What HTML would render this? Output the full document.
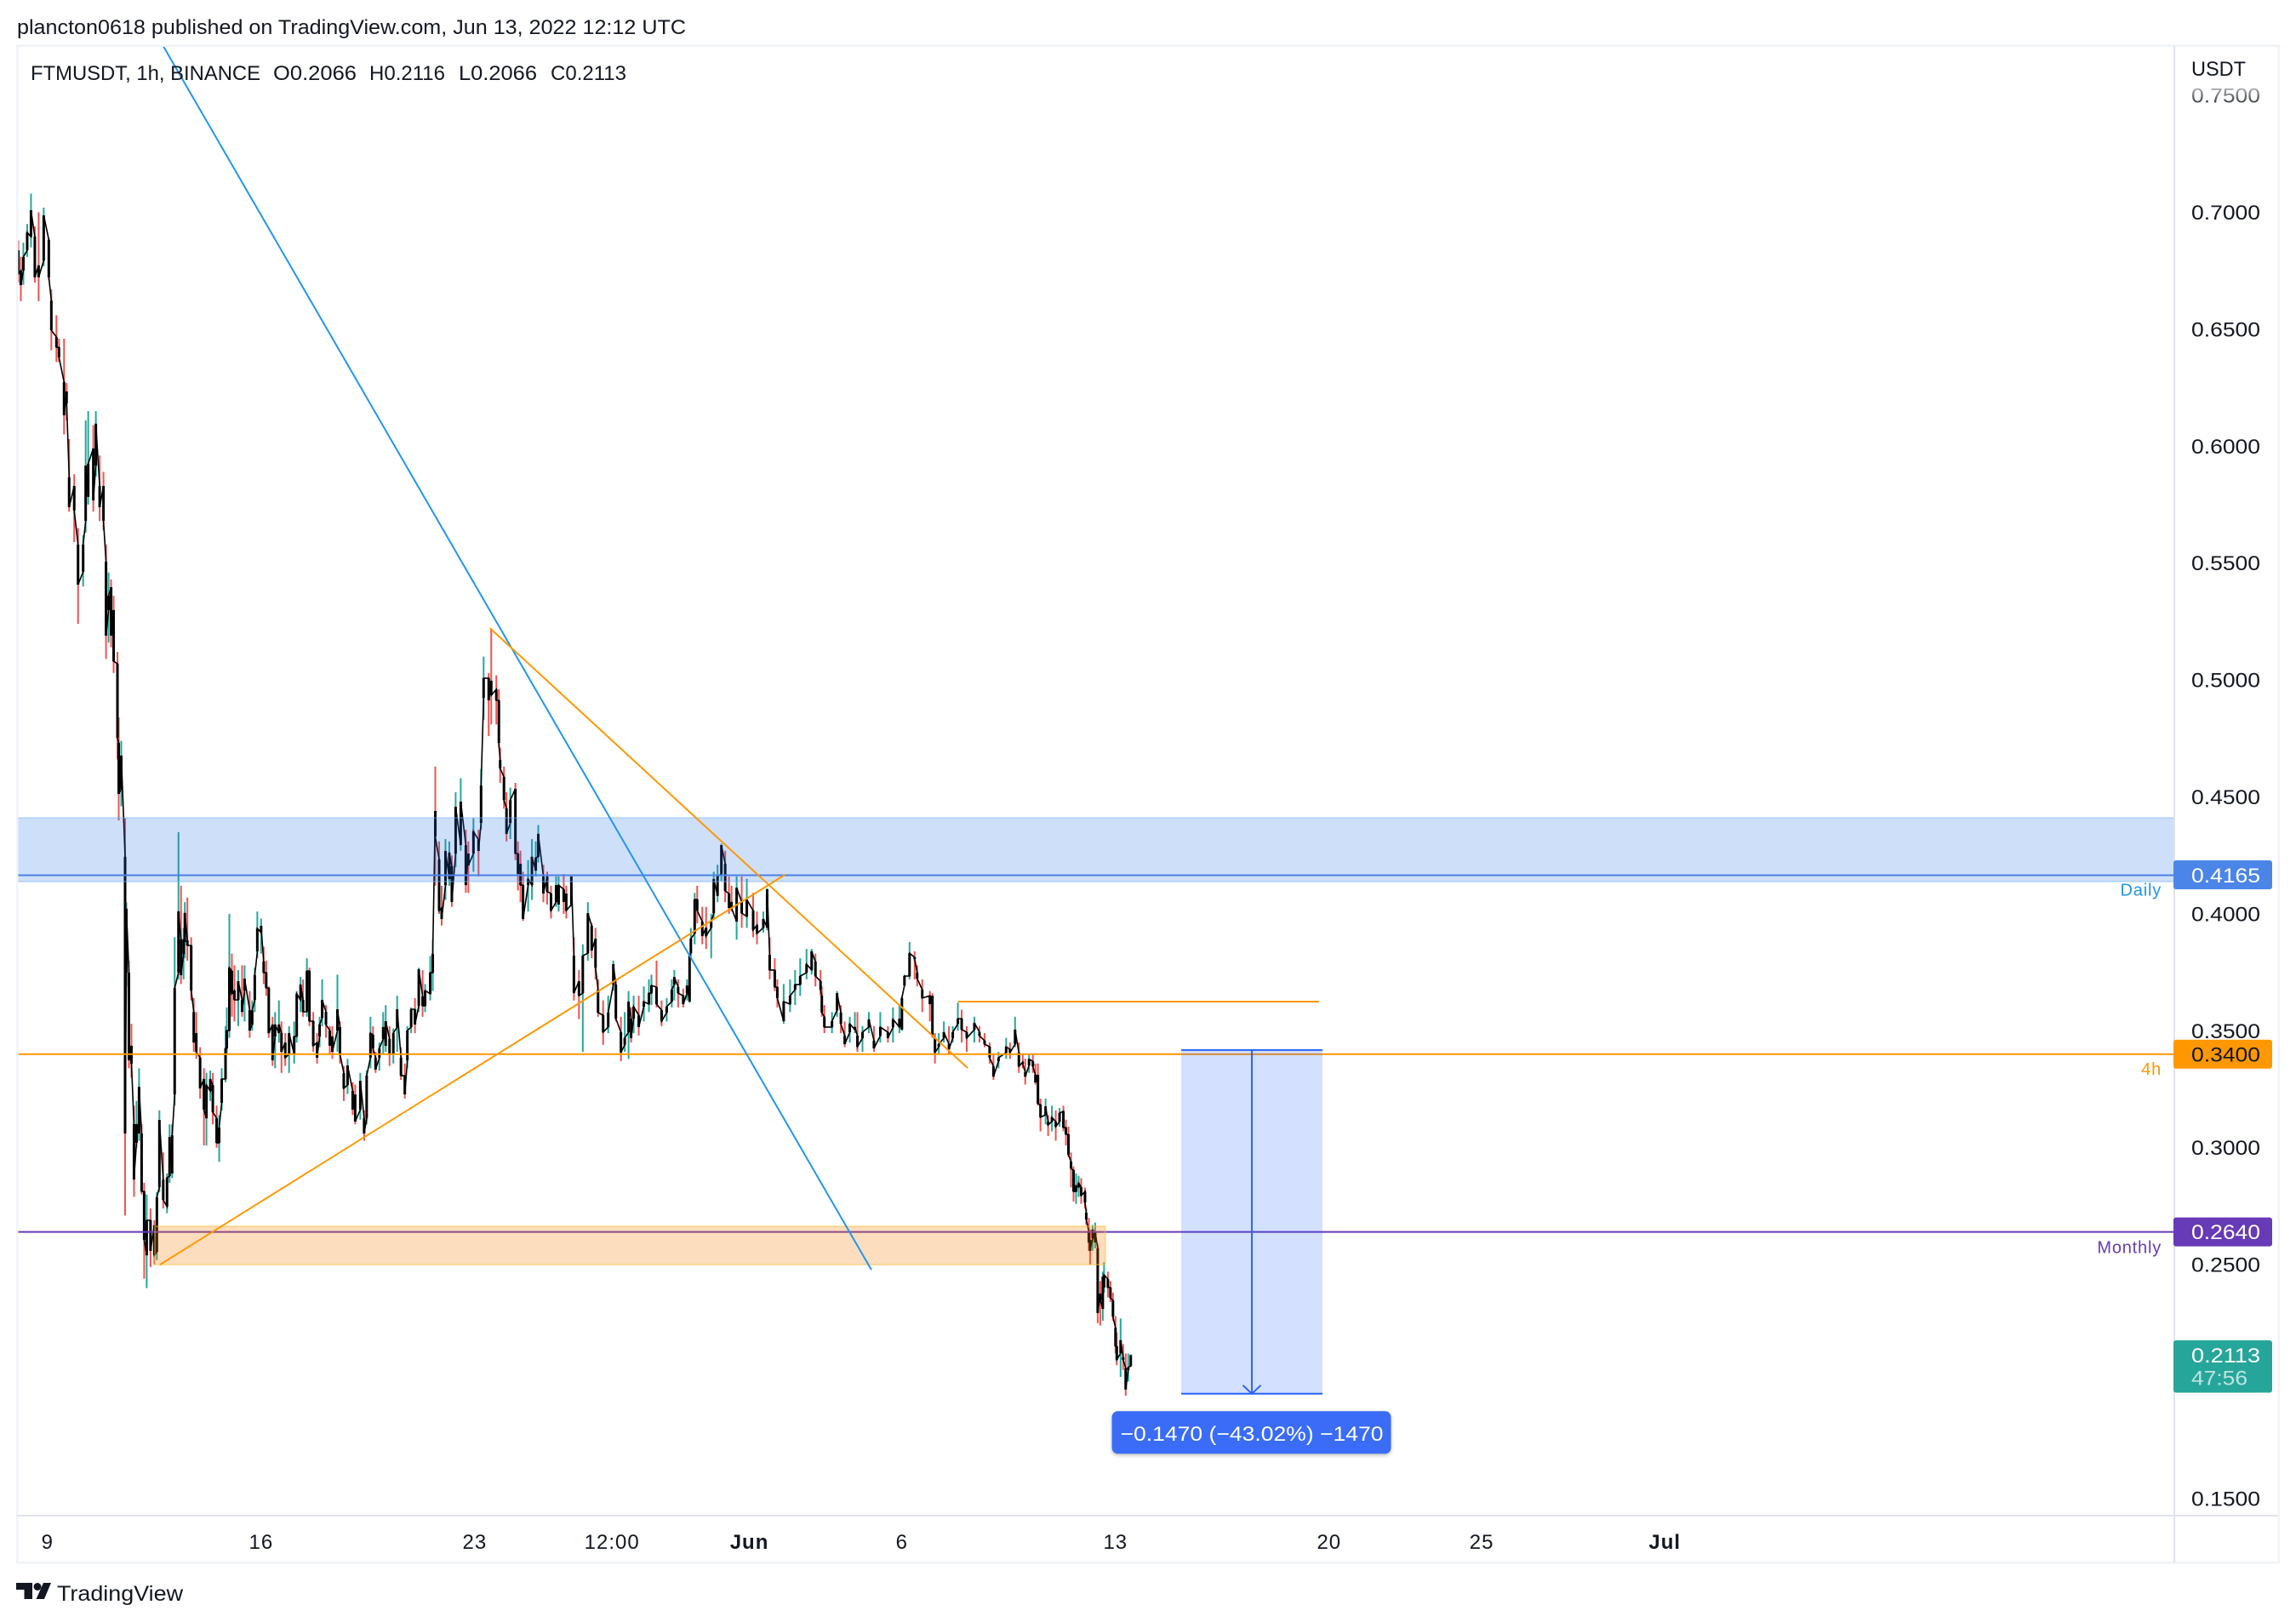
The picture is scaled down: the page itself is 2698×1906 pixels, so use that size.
<!DOCTYPE html>
<html lang="en">
<head>
<meta charset="utf-8">
<title>FTMUSDT 1h chart</title>
<style>
html,body{margin:0;padding:0;background:#fff;width:2698px;height:1906px;overflow:hidden}
svg{display:block}
text{font-family:"Liberation Sans",Arial,sans-serif;fill:#131722}
</style>
</head>
<body>
<svg id="chart" xmlns="http://www.w3.org/2000/svg" width="2698" height="1906" viewBox="0 0 2698 1906">
  <defs>
    <linearGradient id="fade" x1="0" y1="0" x2="0" y2="1">
      <stop offset="0" stop-color="#131722" stop-opacity="0.25"/>
      <stop offset="1" stop-color="#131722" stop-opacity="1"/>
    </linearGradient>
  </defs>
  <rect x="0" y="0" width="2698" height="1906" fill="#ffffff"/>
  <text x="20" y="40" font-size="24" textLength="786" lengthAdjust="spacingAndGlyphs">plancton0618 published on TradingView.com, Jun 13, 2022 12:12 UTC</text>
  <g id="candles"></g>
  <g id="overlays"></g>

  <rect x="19" y="52.5" width="2660" height="2.5" fill="#f0f3fa"/>
  <rect x="19" y="52.5" width="2.5" height="1785" fill="#f0f3fa"/>
  <rect x="2676.5" y="52.5" width="2.5" height="1785" fill="#f0f3fa"/>
  <rect x="19" y="1835" width="2660" height="2.5" fill="#f0f3fa"/>
  <rect x="2554" y="54" width="2" height="1782" fill="#e0e3eb"/>
  <rect x="20" y="1780" width="2657" height="2" fill="#e0e3eb"/>

  <g font-size="24">
    <text x="36" y="94" font-size="24" textLength="270" lengthAdjust="spacingAndGlyphs">FTMUSDT, 1h, BINANCE</text>
    <text x="321" y="94" font-size="24" textLength="98" lengthAdjust="spacingAndGlyphs">O0.2066</text>
    <text x="434" y="94" font-size="24" textLength="89" lengthAdjust="spacingAndGlyphs">H0.2116</text>
    <text x="539" y="94" font-size="24" textLength="92" lengthAdjust="spacingAndGlyphs">L0.2066</text>
    <text x="647" y="94" font-size="24" textLength="89" lengthAdjust="spacingAndGlyphs">C0.2113</text>
  </g>
  <text x="2575" y="89" font-size="24" textLength="64" lengthAdjust="spacingAndGlyphs">USDT</text>
  <g id="price-ticks"></g>
  <g id="time-ticks"></g>
  <g id="price-tags"></g>

  <g>
    <path d="M19 1860h19v19h-9.500v-11h-9.500z" fill="#131722"/>
    <circle cx="44" cy="1864.500" r="4.500" fill="#131722"/>
    <path d="M51 1860h9l-8 19h-9.500z" fill="#131722"/>
    <text x="67" y="1881" font-size="25" textLength="148" lengthAdjust="spacingAndGlyphs">TradingView</text>
  </g>
</svg>
<script>
// Bar time: hours since 8 May 2022 00:00 UTC
const barHours = [
1,3,5,8,11,14,17,21,25,27,
31,33,37,39,41,45,48,52,54,56,
60,62,65,68,70,72,74,76,79,80,
82,85,86,88,90,92,94,96,98,100,
102,105,108,110,112,115,118,120,122,124,
127,129,131,132,134,137,139,141,144,147,
149,152,154,157,159,161,164,165,167,169,
171,174,177,179,183,185,187,189,192,194,
196,198,201,203,206,208,211,214,218,220,
223,225,228,230,233,236,238,240,243,246,
248,252,254,257,260,264,266,270,273,275,
278,280,282,285,288,290,293,296,299,302,
305,307,310,313,316,319,321,325,327,329,
332,334,337,340,342,345,349,353,355,359,
363,365,367,371,373,377,379,380,383,385,
388,392,394,396,398,402,405,408,410,414,
417,420,424,426,430,432,436,438,442,445,
449,452,455,457,461,465,469,471,475,478,
481,483,485,489,493,497,499,503,507,511,
515,517,520,524,527,529,530,533,535,539,
542,546,548,551,554,557,560,562,566,570,
574,579,582,587,590,592,596,598,603,608,
612,616,621,625,628,632,633,635,641,645,
648,651,655,659,661,665,670,674,679,685,
689,694,696,698,702,706,708,712,718,720,
722,725,729,733,736,740,743,747,753,757,
761,765,768,772,778,781,785,788,791,793,
796,799,801,803,805,809,811,814,817,820,
823,825,827,829,831,833,835,837,840,841,
843,844,846,848,850,852,854,855,858,860,
862,864,865,868,870,872,874,876];
const opens = [
.6838,.6751,.6751,.6838,.6896,.6896,.6773,.6794,.6882,.6623,
.6467,.6423,.6274,.6234,.5867,.5830,.5579,.5463,.5681,.5783,
.5990,.5917,.5830,.5830,.5506,.5299,.5397,.5299,.5070,.4731,
.4535,.4244,.3749,.3749,.3436,.3101,.3021,.3061,.3061,.2813,
.2540,.2690,.2668,.2555,.2832,.2864,.2748,.2879,.2890,.3228,
.3749,.3891,.3829,.3880,.3887,.3865,.3581,.3490,.3385,.3294,
.3126,.3243,.3268,.3126,.3021,.3192,.3294,.3425,.3501,.3756,
.3672,.3632,.3632,.3672,.3588,.3527,.3632,.3840,.3920,.3796,
.3749,.3683,.3527,.3476,.3490,.3490,.3450,.3400,.3400,.3476,
.3632,.3632,.3581,.3756,.3541,.3450,.3476,.3556,.3581,.3501,
.3476,.3501,.3516,.3319,.3268,.3243,.3228,.3163,.3126,.3126,
.3385,.3483,.3385,.3385,.3465,.3436,.3465,.3400,.3516,.3385,
.3308,.3374,.3516,.3592,.3607,.3647,.3607,.3658,.3749,.4440,
.4233,.4025,.4123,.4149,.4204,.4258,.4294,.4294,.4258,.4258,
.4316,.4389,.4924,.5008,.4997,.4960,.4913,.4658,.4586,.4451,
.4389,.4535,.4258,.4214,.4123,.4123,.4123,.4185,.4244,.4160,
.4160,.4087,.4051,.4040,.4105,.4087,.4040,.3821,.3712,.3661,
.3832,.3949,.3894,.3676,.3567,.3516,.3698,.3698,.3494,.3440,
.3494,.3552,.3552,.3567,.3603,.3614,.3661,.3687,.3588,.3578,
.3625,.3698,.3687,.3650,.3661,.3625,.3832,.3916,.4061,.3967,
.3941,.3941,.4003,.4077,.4171,.4214,.4087,.4051,.3967,.4051,
.3989,.4014,.3952,.3941,.3941,.3825,.3760,.3687,.3541,.3614,
.3676,.3698,.3749,.3760,.3796,.3712,.3650,.3560,.3516,.3588,
.3578,.3479,.3494,.3505,.3479,.3469,.3516,.3458,.3479,.3494,
.3516,.3516,.3505,.3694,.3734,.3814,.3749,.3676,.3650,.3650,
.3469,.3432,.3469,.3443,.3469,.3530,.3552,.3494,.3505,.3494,
.3458,.3432,.3348,.3370,.3407,.3421,.3443,.3407,.3366,.3323,
.3352,.3370,.3312,.3312,.3184,.3141,.3112,.3112,.3112,.3112,
.3156,.3086,.3057,.2941,.2904,.2813,.2831,.2831,.2813,.2722,
.2642,.2606,.2613,.2595,.2570,.2376,.2311,.2402,.2438,.2402,
.2347,.2230,.2151,.2122,.2104,.2057,.2050,.2066];
const highs = [
.688,.681,.687,.695,.708,.694,.700,.702,.689,.667,
.656,.646,.646,.627,.603,.588,.565,.562,.611,.615,
.609,.615,.596,.589,.558,.546,.543,.536,.512,.484,
.474,.441,.405,.380,.353,.318,.320,.334,.310,.285,
.280,.274,.269,.281,.316,.298,.289,.310,.310,.390,
.435,.412,.394,.405,.407,.390,.364,.358,.343,.334,
.332,.333,.332,.318,.314,.334,.352,.360,.400,.383,
.378,.376,.378,.378,.367,.363,.377,.401,.398,.386,
.380,.369,.356,.358,.363,.354,.349,.352,.354,.367,
.373,.372,.381,.377,.358,.349,.356,.372,.361,.352,
.352,.374,.354,.335,.338,.328,.327,.332,.316,.333,
.356,.352,.341,.345,.358,.361,.352,.351,.365,.343,
.336,.352,.360,.364,.377,.376,.370,.382,.389,.463,
.431,.412,.432,.431,.425,.452,.458,.436,.431,.441,
.436,.462,.510,.503,.522,.502,.496,.471,.463,.452,
.454,.456,.431,.427,.418,.423,.432,.431,.438,.421,
.418,.412,.416,.416,.417,.412,.416,.390,.376,.387,
.405,.396,.394,.372,.363,.365,.380,.372,.356,.358,
.367,.360,.365,.365,.369,.372,.374,.380,.363,.364,
.372,.376,.372,.368,.372,.383,.394,.409,.412,.403,
.403,.400,.418,.421,.430,.427,.416,.412,.416,.416,
.415,.409,.401,.401,.411,.390,.381,.372,.370,.372,
.376,.381,.385,.385,.383,.376,.369,.361,.358,.367,
.361,.354,.356,.358,.358,.352,.358,.352,.358,.352,
.360,.361,.365,.374,.388,.384,.378,.372,.367,.366,
.349,.349,.354,.352,.352,.362,.359,.352,.356,.352,
.349,.345,.340,.341,.347,.345,.356,.345,.340,.338,
.340,.340,.336,.336,.321,.321,.314,.318,.316,.317,
.318,.312,.309,.298,.292,.289,.288,.287,.283,.274,
.270,.265,.267,.268,.259,.243,.247,.251,.247,.243,
.238,.228,.221,.227,.216,.212,.212,.2116];
const lows = [
.670,.662,.669,.681,.685,.670,.662,.677,.671,.641,
.636,.636,.605,.611,.572,.559,.524,.540,.563,.575,
.572,.587,.568,.564,.509,.516,.514,.503,.466,.440,
.446,.271,.369,.334,.330,.279,.300,.303,.280,.244,
.240,.249,.250,.252,.281,.274,.272,.285,.287,.318,
.372,.370,.372,.381,.380,.363,.341,.338,.321,.301,
.301,.320,.310,.300,.294,.316,.328,.340,.347,.356,
.354,.352,.356,.354,.347,.350,.358,.381,.383,.370,
.365,.347,.335,.334,.345,.332,.335,.332,.336,.345,
.358,.356,.356,.352,.341,.336,.343,.352,.347,.340,
.338,.341,.336,.320,.323,.314,.310,.312,.303,.310,
.334,.340,.332,.333,.340,.341,.335,.336,.341,.329,
.321,.334,.349,.349,.358,.356,.358,.363,.367,.412,
.400,.395,.406,.412,.403,.420,.427,.409,.409,.418,
.416,.436,.483,.476,.481,.481,.471,.456,.445,.431,
.432,.423,.410,.405,.397,.401,.406,.416,.422,.405,
.404,.398,.403,.401,.400,.398,.403,.363,.355,.341,
.380,.381,.372,.356,.344,.349,.367,.354,.337,.341,
.338,.345,.349,.348,.354,.358,.361,.360,.352,.354,
.360,.363,.360,.360,.363,.362,.381,.387,.396,.387,
.385,.381,.398,.405,.414,.405,.400,.401,.389,.394,
.394,.390,.387,.392,.393,.372,.367,.360,.353,.358,
.361,.365,.372,.374,.369,.365,.356,.349,.349,.356,
.349,.343,.345,.349,.341,.341,.349,.341,.345,.345,
.345,.349,.350,.369,.372,.372,.369,.358,.354,.347,
.336,.340,.345,.340,.345,.350,.345,.341,.345,.345,
.343,.336,.329,.334,.338,.338,.343,.332,.334,.327,
.332,.332,.327,.318,.307,.310,.305,.307,.303,.309,
.307,.301,.296,.283,.277,.276,.279,.276,.274,.267,
.256,.250,.256,.257,.225,.224,.226,.238,.236,.234,
.226,.212,.207,.202,.205,.194,.200,.2066];
const closes = [
.6736,.6689,.6809,.6914,.7009,.6722,.6722,.6987,.6722,.6496,
.6423,.6380,.6132,.6183,.5739,.5725,.5408,.5579,.5917,.5925,
.5768,.6096,.5739,.5681,.5190,.5361,.5190,.5080,.4753,.4513,
.4677,.3061,.4022,.3374,.3359,.2864,.3101,.3261,.2813,.2606,
.2690,.2559,.2540,.2788,.3119,.2777,.2872,.3046,.3053,.3683,
.4011,.3738,.3891,.4004,.3865,.3672,.3450,.3410,.3254,.3163,
.3268,.3294,.3152,.3021,.3086,.3294,.3425,.3501,.3770,.3658,
.3632,.3712,.3581,.3723,.3501,.3588,.3738,.3938,.3949,.3749,
.3683,.3490,.3374,.3527,.3527,.3410,.3385,.3490,.3476,.3658,
.3698,.3581,.3756,.3541,.3436,.3385,.3527,.3632,.3527,.3436,
.3410,.3592,.3400,.3254,.3352,.3163,.3112,.3286,.3061,.3308,
.3490,.3425,.3334,.3425,.3516,.3541,.3400,.3490,.3592,.3308,
.3228,.3501,.3592,.3527,.3763,.3607,.3672,.3749,.3829,.4331,
.4014,.3978,.4269,.4262,.4051,.4458,.4480,.4123,.4207,.4353,
.4269,.4549,.5008,.4913,.4935,.4913,.4731,.4622,.4487,.4342,
.4487,.4258,.4171,.4123,.3978,.4149,.4244,.4240,.4342,.4087,
.4095,.4014,.4123,.4123,.4051,.4014,.4160,.3661,.3650,.3821,
.4003,.3843,.3770,.3578,.3494,.3578,.3785,.3552,.3407,.3469,
.3625,.3469,.3603,.3516,.3625,.3661,.3694,.3614,.3541,.3603,
.3676,.3730,.3661,.3614,.3694,.3821,.3894,.4061,.4014,.3905,
.3905,.3967,.4149,.4160,.4294,.4098,.4025,.4025,.4112,.4003,
.4061,.3931,.3916,.3978,.4105,.3760,.3687,.3640,.3625,.3650,
.3698,.3734,.3785,.3840,.3734,.3676,.3578,.3516,.3541,.3661,
.3530,.3443,.3530,.3516,.3432,.3494,.3549,.3425,.3516,.3469,
.3549,.3552,.3640,.3734,.3832,.3807,.3723,.3640,.3614,.3479,
.3407,.3443,.3494,.3421,.3494,.3552,.3505,.3469,.3534,.3479,
.3443,.3385,.3304,.3385,.3432,.3407,.3505,.3348,.3359,.3304,
.3378,.3348,.3279,.3188,.3130,.3177,.3097,.3130,.3090,.3148,
.3086,.3057,.2970,.2911,.2813,.2838,.2849,.2795,.2766,.2693,
.2595,.2559,.2650,.2642,.2293,.2347,.2449,.2456,.2402,.2358,
.2278,.2151,.2093,.2177,.2093,.1966,.2061,.2113];

const priceTicks = [0.75,0.70,0.65,0.60,0.55,0.50,0.45,0.40,0.35,0.30,0.25,0.15];
const timeTickHours = [24,192,360,468,576,696,864,1032,1152,1296];
const timeTickLabels = ['9','16','23','12:00','Jun','6','13','20','25','Jul'];
const timeTickBold = ['Jun','Jul'];

const dailyLevel = 0.4165;
const fourHourLevel = 0.34;
const monthlyLevel = 0.264;
const lastPrice = 0.2113;
const countdownText = '47:56';
const supplyZone = [0.4411, 0.4138];
const demandZone = [108.4, 856, 0.2664, 0.25];
const fallingBlueLine = [115, 0.7711, 672, 0.2478];
const risingOrangeLine = [112.4, 0.25, 603.8, 0.4167];
const fallingOrangeLine = [372, 0.5222, 747.7, 0.3341];
const resistanceLine = [740, 1024, 0.3625];
const measureRange = [915.7, 1026.8, 0.3418, 0.1948];

const PX_PER_HOUR = 1.494;
const PX_PER_PRICE = 2748;
function xScale(h){ return 20 + h * PX_PER_HOUR; }
function yScale(p){ return 249.5 + (0.7 - p) * PX_PER_PRICE; }
function make(tag, attrs){
  const el = document.createElementNS('http://www.w3.org/2000/svg', tag);
  for (const k in attrs) el.setAttribute(k, attrs[k]);
  return el;
}

const candleLayer = document.getElementById('candles');
const overlayLayer = document.getElementById('overlays');
const priceTickLayer = document.getElementById('price-ticks');
const timeTickLayer = document.getElementById('time-ticks');
const tagLayer = document.getElementById('price-tags');

const barCount = Math.min(barHours.length, opens.length, highs.length, lows.length, closes.length);
let linePts = [];
for (let i = 0; i < barCount; i++) {
  const x = xScale(barHours[i]);
  const up = closes[i] >= opens[i];
  const wick = make('line', {x1:x, x2:x, y1:yScale(highs[i]), y2:yScale(lows[i]), stroke: up ? '#26a69a' : '#ef5350', 'stroke-width':2});
  
  
  candleLayer.appendChild(wick);
  linePts.push(x.toFixed(1) + ',' + yScale(opens[i]).toFixed(1));
  linePts.push(x.toFixed(1) + ',' + yScale(closes[i]).toFixed(1));
}
const bodyLine = make('polyline', {points: linePts.join(' '), fill:'none', stroke:'#000', 'stroke-width':1.6});


candleLayer.appendChild(bodyLine);
for (let i = 0; i < barCount; i++) {
  const x = xScale(barHours[i]);
  const top = yScale(Math.max(opens[i], closes[i]));
  const bot = yScale(Math.min(opens[i], closes[i]));
  const body = make('rect', {x:x - 1.5, y:top, width:3, height:Math.max(1.5, bot - top), fill:'#000'});
  
  
  candleLayer.appendChild(body);
}

// drawings
const supply = make('rect', {x:20, y:yScale(supplyZone[0]), width:2535, height:yScale(supplyZone[1]) - yScale(supplyZone[0]), fill:'rgba(33,111,230,0.22)', stroke:'rgba(120,180,250,0.35)', 'stroke-width':2});


overlayLayer.appendChild(supply);

const dailyLine = make('line', {x1:20, x2:2555, y1:yScale(dailyLevel), y2:yScale(dailyLevel), stroke:'#4a80e6', 'stroke-width':2});


overlayLayer.appendChild(dailyLine);

const fourHourLine = make('line', {x1:20, x2:2555, y1:yScale(fourHourLevel), y2:yScale(fourHourLevel), stroke:'#ff9800', 'stroke-width':2});


overlayLayer.appendChild(fourHourLine);

const monthlyLine = make('line', {x1:20, x2:2555, y1:yScale(monthlyLevel), y2:yScale(monthlyLevel), stroke:'#673ab7', 'stroke-width':2});


overlayLayer.appendChild(monthlyLine);

const demand = make('rect', {x:xScale(demandZone[0]), y:yScale(demandZone[2]), width:xScale(demandZone[1]) - xScale(demandZone[0]), height:yScale(demandZone[3]) - yScale(demandZone[2]), fill:'rgba(245,124,0,0.26)', stroke:'rgba(255,193,70,0.45)', 'stroke-width':2});


overlayLayer.appendChild(demand);

const blueTrend = make('line', {x1:xScale(fallingBlueLine[0]), y1:yScale(fallingBlueLine[1]), x2:xScale(fallingBlueLine[2]), y2:yScale(fallingBlueLine[3]), stroke:'#2196f3', 'stroke-width':2});


overlayLayer.appendChild(blueTrend);

const riseTrend = make('line', {x1:xScale(risingOrangeLine[0]), y1:yScale(risingOrangeLine[1]), x2:xScale(risingOrangeLine[2]), y2:yScale(risingOrangeLine[3]), stroke:'#ff9800', 'stroke-width':2});


overlayLayer.appendChild(riseTrend);

const fallTrend = make('line', {x1:xScale(fallingOrangeLine[0]), y1:yScale(fallingOrangeLine[1]), x2:xScale(fallingOrangeLine[2]), y2:yScale(fallingOrangeLine[3]), stroke:'#ff9800', 'stroke-width':2});


overlayLayer.appendChild(fallTrend);

const resistance = make('line', {x1:xScale(resistanceLine[0]), y1:yScale(resistanceLine[2]), x2:xScale(resistanceLine[1]), y2:yScale(resistanceLine[2]), stroke:'#ff9800', 'stroke-width':2});


overlayLayer.appendChild(resistance);

// measure tool
const mx1 = xScale(measureRange[0]), mx2 = xScale(measureRange[1]);
const my1 = yScale(measureRange[2]), my2 = yScale(measureRange[3]);
const mc = (mx1 + mx2) / 2;
const measureBox = make('rect', {x:mx1, y:my1, width:mx2 - mx1, height:my2 - my1, fill:'rgba(41,98,255,0.2)'});


overlayLayer.appendChild(measureBox);
const measureTop = make('line', {x1:mx1, x2:mx2, y1:my1, y2:my1, stroke:'#2962ff', 'stroke-width':2});


overlayLayer.appendChild(measureTop);
const measureBottom = make('line', {x1:mx1, x2:mx2, y1:my2, y2:my2, stroke:'#2962ff', 'stroke-width':2});


overlayLayer.appendChild(measureBottom);
const measureStem = make('line', {x1:mc, x2:mc, y1:my1, y2:my2, stroke:'#2962ff', 'stroke-width':2});


overlayLayer.appendChild(measureStem);
const measureHead = make('polyline', {points:(mc-10.5)+','+(my2-10)+' '+mc+','+my2+' '+(mc+10.5)+','+(my2-10), fill:'none', stroke:'#2962ff', 'stroke-width':2});


overlayLayer.appendChild(measureHead);
const pill = make('rect', {x:mc - 164.5, y:my2 + 20.5, width:328, height:50, rx:7, fill:'#3a6cf8', style:'filter:drop-shadow(0 2px 2px rgba(0,0,0,0.25))'});


overlayLayer.appendChild(pill);
const pillText = make('text', {x:mc - 154.5, y:my2 + 55, 'font-size':24, textLength:309, lengthAdjust:'spacingAndGlyphs', style:'fill:#fff'});


pillText.textContent = '\u22120.1470 (\u221243.02%) \u22121470';
overlayLayer.appendChild(pillText);

// price axis
priceTicks.forEach(function(p){
  const y = yScale(p);
  const t = make('text', {x:2575, y:y + 8.5, 'font-size':24, textLength:81, lengthAdjust:'spacingAndGlyphs'});
  
  
  t.textContent = p.toFixed(4);
  if (p === 0.75) t.style.fill = 'url(#fade)';
  priceTickLayer.appendChild(t);
});

// time axis
timeTickHours.forEach(function(h, i){
  const label = timeTickLabels[i];
  const t = make('text', {x:xScale(h), y:1820, 'font-size':24, 'text-anchor':'middle', 'letter-spacing':1});
  
  
  if (timeTickBold.indexOf(label) >= 0) t.setAttribute('font-weight', 'bold');
  t.textContent = label;
  timeTickLayer.appendChild(t);
});

// price tags on the axis
const dailyTag = make('rect', {x:2554, y:yScale(dailyLevel) - 17.5, width:116, height:34, rx:3, fill:'#4c85e8'});


tagLayer.appendChild(dailyTag);
const dailyTagText = make('text', {x:2575, y:yScale(dailyLevel) + 8.5, 'font-size':24, textLength:81, lengthAdjust:'spacingAndGlyphs', style:'fill:#fff'});


dailyTagText.textContent = dailyLevel.toFixed(4);
tagLayer.appendChild(dailyTagText);
const fourTag = make('rect', {x:2554, y:yScale(fourHourLevel) - 17, width:116, height:34, rx:3, fill:'#ff9800'});


tagLayer.appendChild(fourTag);
const fourTagText = make('text', {x:2575, y:yScale(fourHourLevel) + 8.5, 'font-size':24, textLength:81, lengthAdjust:'spacingAndGlyphs'});


fourTagText.textContent = fourHourLevel.toFixed(4);
tagLayer.appendChild(fourTagText);
const monthTag = make('rect', {x:2554, y:yScale(monthlyLevel) - 17, width:116, height:34, rx:3, fill:'#673ab7'});


tagLayer.appendChild(monthTag);
const monthTagText = make('text', {x:2575, y:yScale(monthlyLevel) + 8.5, 'font-size':24, textLength:81, lengthAdjust:'spacingAndGlyphs', style:'fill:#fff'});


monthTagText.textContent = monthlyLevel.toFixed(4);
tagLayer.appendChild(monthTagText);
const lastTag = make('rect', {x:2554, y:yScale(lastPrice) - 17.5, width:116, height:61.5, rx:3, fill:'#26a69a'});


tagLayer.appendChild(lastTag);
const lastTagText = make('text', {x:2575, y:yScale(lastPrice) + 8.5, 'font-size':24, textLength:81, lengthAdjust:'spacingAndGlyphs', style:'fill:#fff'});


lastTagText.textContent = lastPrice.toFixed(4);
tagLayer.appendChild(lastTagText);
const countdown = make('text', {x:2575, y:yScale(lastPrice) + 35, 'font-size':24, textLength:66, lengthAdjust:'spacingAndGlyphs', style:'fill:rgba(255,255,255,0.7)'});


countdown.textContent = countdownText;
tagLayer.appendChild(countdown);

const dailyName = make('text', {x:2540, y:yScale(dailyLevel) + 24, 'font-size':20, 'text-anchor':'end', 'letter-spacing':0.8, style:'fill:#2196f3'});


dailyName.textContent = 'Daily';
tagLayer.appendChild(dailyName);
const fourName = make('text', {x:2540, y:yScale(fourHourLevel) + 24, 'font-size':20, 'text-anchor':'end', 'letter-spacing':0.8, style:'fill:#ff9800'});


fourName.textContent = '4h';
tagLayer.appendChild(fourName);
const monthName = make('text', {x:2540, y:yScale(monthlyLevel) + 25, 'font-size':20, 'text-anchor':'end', 'letter-spacing':0.8, style:'fill:#673ab7'});


monthName.textContent = 'Monthly';
tagLayer.appendChild(monthName);
</script>
</body>
</html>
